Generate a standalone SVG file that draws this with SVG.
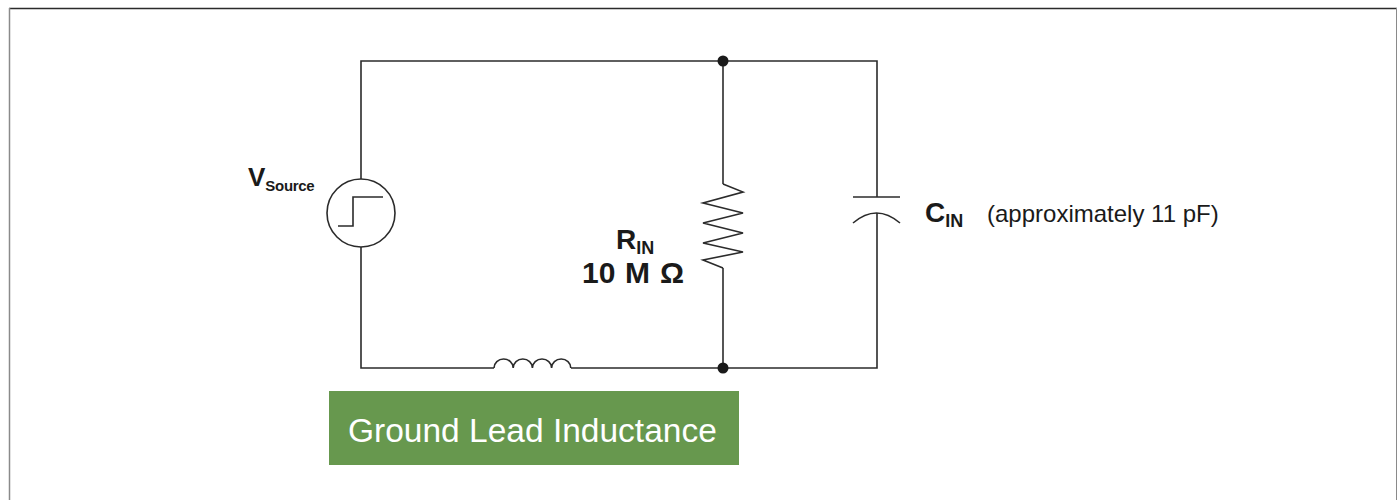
<svg xmlns="http://www.w3.org/2000/svg" width="1398" height="500" viewBox="0 0 1398 500">
<style>
.w{fill:none;stroke:#2b2b2b;stroke-width:1.6;stroke-linejoin:miter}
.lbl{font-family:"Liberation Sans",Arial,sans-serif;fill:#1a1a1a;font-weight:bold}
.reg{font-family:"Liberation Sans",Arial,sans-serif;fill:#1a1a1a}
.dot{fill:#1a1a1a}
</style>
<rect x="0" y="0" width="1398" height="500" fill="#ffffff"/>
<g id="frame">
<line x1="9" y1="8.5" x2="1397" y2="8.5" stroke="#2b2b2b" stroke-width="1.5"/>
<line x1="9.5" y1="8" x2="9.5" y2="500" stroke="#8a8a8a" stroke-width="1.5"/>
<line x1="1396.5" y1="8" x2="1396.5" y2="500" stroke="#8a8a8a" stroke-width="1"/>
</g>
<g id="connectors">
<path class="w" d="M361,179 V61 H877 V197"/>
<path class="w" d="M361,247 V368 H494"/>
<path class="w" d="M571,368 H877 V213"/>
<path class="w" d="M723,61 V184"/>
<path class="w" d="M723,268 V368"/>
</g>
<g id="source">
<circle class="w" cx="361" cy="213" r="34"/>
<path class="w" d="M338,226 H353 V197 H383"/>
</g>
<g id="inductor">
<path class="w" d="M494,368 a9.6,9 0 0 1 19.2,0 a9.6,9 0 0 1 19.2,0 a9.6,9 0 0 1 19.2,0 a9.6,9 0 0 1 19.2,0"/>
</g>
<g id="resistor">
<path class="w" d="M723,184 L743,192 L703,203 L743,213 L703,223 L743,233 L703,243 L743,252 L703,260 L723,268"/>
</g>
<g id="capacitor">
<line class="w" x1="853" y1="197" x2="900" y2="197"/>
<path class="w" d="M853,223 Q876.5,203 900,223"/>
</g>
<g id="junctions">
<circle class="dot" cx="723" cy="61" r="5.5"/>
<circle class="dot" cx="723" cy="368" r="5.5"/>
</g>
<g id="labels">
<text class="lbl" x="248" y="186" font-size="26">V<tspan font-size="15" dy="5" letter-spacing="-0.3">Source</tspan></text>
<text class="lbl" x="616" y="249" font-size="28">R<tspan font-size="18" dy="5">IN</tspan></text>
<text class="lbl" y="283" font-size="30"><tspan x="582">10</tspan><tspan x="625">M</tspan><tspan x="660">Ω</tspan></text>
<text class="lbl" x="925" y="222" font-size="28">C<tspan font-size="18" dy="5">IN</tspan></text>
<text class="reg" x="987" y="222" font-size="24">(approximately 11 pF)</text>
</g>
<g id="ground-lead-box">
<rect x="329" y="391" width="410" height="74" fill="#67984e"/>
<text x="348" y="442" font-family="'Liberation Sans',Arial,sans-serif" font-size="33.5" fill="#ffffff">Ground Lead Inductance</text>
</g>
</svg>
